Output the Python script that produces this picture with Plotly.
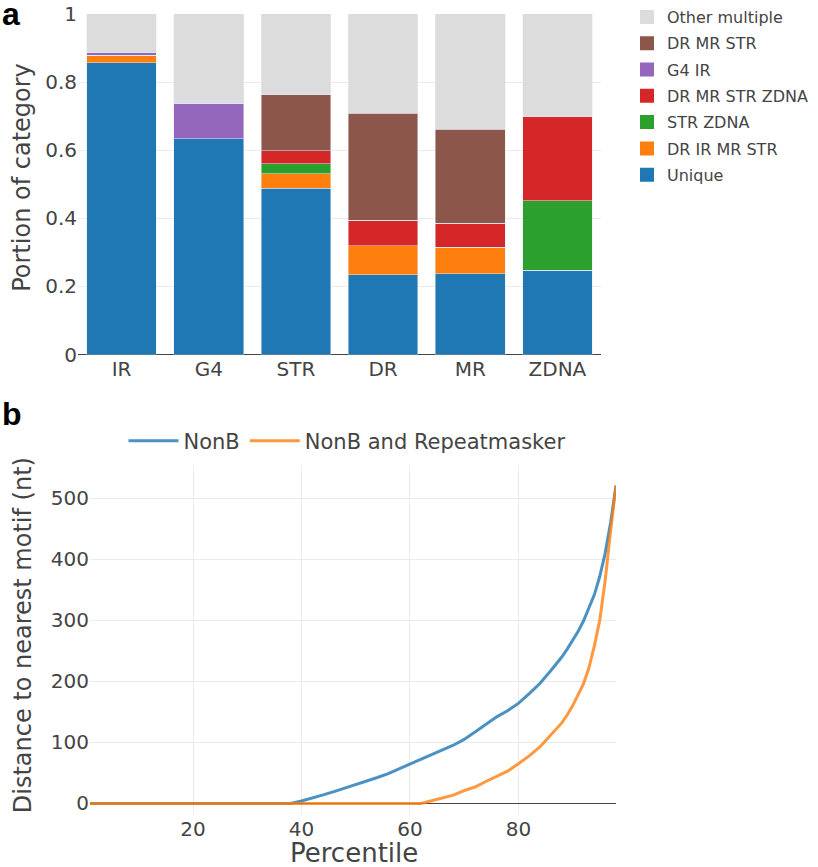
import plotly.graph_objects as go

# ---------- Panel a data ----------
categories = ["IR", "G4", "STR", "DR", "MR", "ZDNA"]
unique = [0.857, 0.634, 0.488, 0.235, 0.238, 0.247]
dr_ir_mr_str = [0.022, 0.0, 0.043, 0.085, 0.077, 0.0]
str_zdna = [0.0, 0.0, 0.029, 0.0, 0.0, 0.205]
dr_mr_str_zdna = [0.0, 0.0, 0.039, 0.075, 0.070, 0.247]
g4_ir = [0.007, 0.104, 0.0, 0.0, 0.0, 0.0]
dr_mr_str = [0.0, 0.0, 0.164, 0.314, 0.277, 0.0]
other_multiple = [0.114, 0.262, 0.237, 0.291, 0.338, 0.301]

series_a = [
    ("Unique", unique, "#1f77b4"),
    ("DR IR MR STR", dr_ir_mr_str, "#ff7f0e"),
    ("STR ZDNA", str_zdna, "#2ca02c"),
    ("DR MR STR ZDNA", dr_mr_str_zdna, "#d62728"),
    ("G4 IR", g4_ir, "#9467bd"),
    ("DR MR STR", dr_mr_str, "#8c564b"),
    ("Other multiple", other_multiple, "#dcdcdc"),
]

# ---------- Panel b data ----------
percentile = [1, 38, 40, 42, 44, 46, 48, 50, 52, 54, 56, 58, 60, 62, 64, 66, 68,
              70, 72, 74, 76, 78, 80, 82, 84, 86, 88, 89, 90, 91, 92, 93, 94,
              95, 96, 97, 98]
nonb = [0, 0, 4, 8.5, 14, 19.5, 25, 30.5, 36, 42.5, 49, 57, 65, 73, 80.5, 88, 95.5,
        105, 117, 129, 142, 152, 164, 180, 197, 218, 240, 253, 267, 282, 299, 320, 342,
        372, 410, 460, 521]
nonb_rm = [0, 0, 0, 0, 0, 0, 0, 0, 0, 0, 0, 0, 0, 0, 4.5, 9, 13.6,
           21, 27, 36, 45, 53, 65, 78, 93, 112, 132, 145, 160, 178, 196, 222, 258,
           300, 365, 447, 521]

FONT = "DejaVu Sans"
fig = go.Figure()

# stacked bars (bottom to top)
for name, vals, color in series_a:
    fig.add_trace(go.Bar(
        x=categories, y=vals, name=name, marker=dict(color=color),
        xaxis="x", yaxis="y", showlegend=False, legendgroup=name,
    ))
# legend entries, top of stack first (draw nothing on the axes)
for name, vals, color in reversed(series_a):
    fig.add_trace(go.Bar(
        x=[categories[0]], y=[None], name=name,
        marker=dict(color=color, line=dict(color=color, width=2)),
        xaxis="x", yaxis="y", legend="legend", legendgroup=name,
        showlegend=True, hoverinfo="skip",
    ))

fig.add_trace(go.Scatter(
    x=percentile, y=nonb, name="NonB", mode="lines",
    line=dict(color="#1f77b4", width=3), opacity=0.8,
    xaxis="x2", yaxis="y2", legend="legend2",
))
fig.add_trace(go.Scatter(
    x=percentile, y=nonb_rm, name="NonB and Repeatmasker", mode="lines",
    line=dict(color="#ff7f0e", width=3), opacity=0.8,
    xaxis="x2", yaxis="y2", legend="legend2",
))

W, H = 818, 867
def dx(a, b):
    return [a / W, b / W]
def dy(top, bottom):
    return [(H - bottom) / H, (H - top) / H]
def px_(x):
    return x / W
def py(y):
    return (H - y) / H

grid = "#ebebeb"

def title_ann(text, x, y, size, angle=0):
    return dict(text=text, x=px_(x), y=py(y), xref="paper", yref="paper",
                xanchor="center", yanchor="middle", showarrow=False,
                textangle=angle, font=dict(family=FONT, size=size, color="#444"))

fig.update_layout(
    width=W, height=H,
    margin=dict(l=0, r=0, t=0, b=0),
    paper_bgcolor="white", plot_bgcolor="white",
    font=dict(family=FONT, color="#444", size=20),
    barmode="stack", bargap=0.2,
    showlegend=True,
    xaxis=dict(domain=dx(78, 601), anchor="y", showgrid=False, automargin=False,
               showline=False, ticks="", tickfont=dict(size=20)),
    yaxis=dict(domain=dy(13, 354), anchor="x", range=[0, 1], automargin=False,
               tickvals=[0, 0.2, 0.4, 0.6, 0.8, 1],
               ticktext=["0", "0.2", "0.4", "0.6", "0.8", "1"],
               showgrid=True, gridcolor=grid, zeroline=True,
               zerolinecolor="#444", zerolinewidth=1,
               tickfont=dict(size=20)),
    xaxis2=dict(domain=dx(90, 616), anchor="y2", range=[1, 98], automargin=False,
                tickvals=[20, 40, 60, 80], showgrid=True, gridcolor=grid,
                zeroline=False, showline=False, tickfont=dict(size=20)),
    yaxis2=dict(domain=dy(465, 815), anchor="x2", range=[-19, 554], automargin=False,
                tickvals=[0, 100, 200, 300, 400, 500], showgrid=True,
                gridcolor=grid, zeroline=True, zerolinecolor="#444",
                zerolinewidth=1, tickfont=dict(size=20)),
    legend=dict(x=px_(627), y=py(-1), xanchor="left", yanchor="top",
                font=dict(size=16), traceorder="grouped",
                tracegroupgap=2.5, bgcolor="rgba(0,0,0,0)"),
    legend2=dict(orientation="h", x=px_(347), y=py(441),
                 xanchor="center", yanchor="middle", font=dict(size=21),
                 itemwidth=50, bgcolor="rgba(0,0,0,0)"),
    annotations=[
        dict(text="<b>a</b>", x=0, y=py(13), xref="paper", yref="paper",
             xanchor="left", yanchor="middle", showarrow=False,
             font=dict(family="Liberation Sans", size=32, color="black")),
        dict(text="<b>b</b>", x=0, y=py(413), xref="paper", yref="paper",
             xanchor="left", yanchor="middle", showarrow=False,
             font=dict(family="Liberation Sans", size=32, color="black")),
        title_ann("Portion of category", 22, 177, 24, -90),
        title_ann("Distance to nearest motif (nt)", 23, 635, 24, -90),
        title_ann("Percentile", 354, 853, 26),
    ],
)

fig.write_html("out.html", config={"displayModeBar": False},
               post_script="document.body.style.margin='0';")
